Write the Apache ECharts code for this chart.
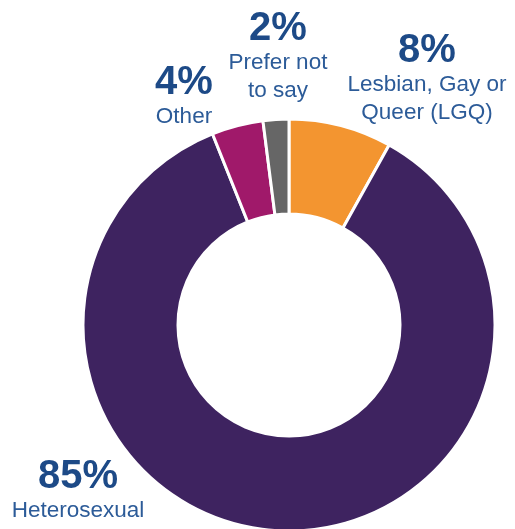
<!DOCTYPE html>
<html>
<head>
<meta charset="utf-8">
<script src="https://cdn.jsdelivr.net/npm/echarts@6/dist/echarts.min.js"></script>
<style>
html,body{margin:0;padding:0;background:#fff;}
#c{width:515px;height:529px;}
</style>
</head>
<body>
<div id="c"></div>
<script>
var categories = ['Lesbian, Gay or\nQueer (LGQ)', 'Heterosexual', 'Other', 'Prefer not\nto say'];
var values = [8, 85, 4, 2];
var colors = ['#F39530', '#3E2360', '#A0196A', '#666666'];
var labelSpots = [[427, 79], [78, 491], [184, 97], [278, 57]];

var chart = echarts.init(document.getElementById('c'));
chart.setOption({
  animation: false,
  series: [{
    type: 'pie',
    center: [289, 325],
    radius: [111, 206],
    startAngle: 90,
    clockwise: true,
    avoidLabelOverlap: false,
    itemStyle: { borderColor: '#fff', borderWidth: 3 },
    labelLine: { show: false },
    label: {
      show: true,
      position: 'outside',
      align: 'center',
      overflow: 'none',
      formatter: function (p) {
        return '{p|' + p.value + '%}\n' + p.name.split('\n').map(function (s) { return '{n|' + s + '}'; }).join('\n');
      },
      rich: {
        p: { fontFamily: 'Liberation Sans', fontWeight: 'bold', fontSize: 40, lineHeight: 40, color: '#1D4A87', align: 'center' },
        n: { fontFamily: 'Liberation Sans', fontSize: 22.5, lineHeight: 28, color: '#2C5B98', align: 'center' }
      }
    },
    labelLayout: function (params) {
      var s = labelSpots[params.dataIndex];
      return { x: s[0], y: s[1], align: 'center', verticalAlign: 'middle' };
    },
    data: categories.map(function (c, i) {
      return { name: c, value: values[i], itemStyle: { color: colors[i] } };
    })
  }]
});
</script>
</body>
</html>
